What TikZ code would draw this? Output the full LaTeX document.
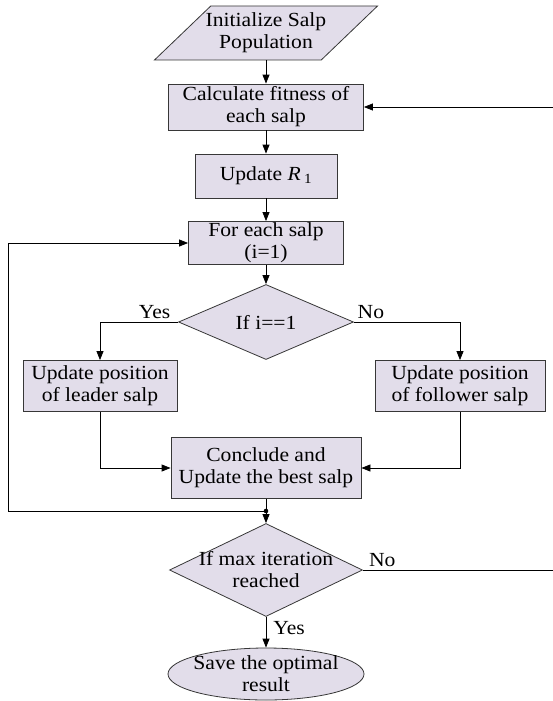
\documentclass[tikz,border=0pt]{standalone}
\usepackage{fontspec}
\setmainfont{Liberation Serif}[FakeStretch=1.08]
\usepackage{tikz}
\usetikzlibrary{shapes.geometric,arrows.meta}
\definecolor{relleno}{RGB}{226,221,234}
\definecolor{borde}{RGB}{55,55,55}

\tikzset{
 caja/.style={rectangle, draw=borde, fill=relleno, inner sep=0pt, align=center},
 rombo/.style={diamond, draw=borde, fill=relleno, inner sep=0pt, align=center},
 texto/.style={inner sep=0pt, align=center},
 flecha/.style={-{Triangle[length=9pt,width=7pt]}},
 etiqueta/.style={inner sep=3pt}
}

\begin{document}
\begin{tikzpicture}[x=1pt, y=-1pt, line width=0.8pt, font=\fontsize{20}{22}\selectfont]
 \useasboundingbox (0,0) rectangle (553,701);

 % Columna central
 \node[trapezium, trapezium left angle=63, trapezium right angle=117,
       trapezium stretches=true, draw=borde, fill=relleno,
       minimum width=223pt, minimum height=54pt] (init) at (266,33) {};
 \node[texto] (init-t) at (init) {Initialize Salp\\Population};
 \node[caja, minimum width=195pt, minimum height=46pt] (calc) at (266,107) {Calculate fitness of\\each salp};
 \node[caja, minimum width=142pt, minimum height=44pt] (rone) at (266,176) {Update \textit{R}\,\textsubscript{1}};
 \node[caja, minimum width=155pt, minimum height=43pt] (each) at (266,243) {For each salp\\(i=1)};
 \node[rombo, minimum width=175pt, minimum height=66pt] (check) at (266,322) {If i==1};

 % Ramas
 \node[caja, minimum width=154pt, minimum height=51pt] (lider) at (100,386) {Update position\\of leader salp};
 \node[caja, minimum width=170pt, minimum height=51pt] (seguidor) at (460,386) {Update position\\of follower salp};
 \node[caja, minimum width=190pt, minimum height=61pt] (concl) at (266,468) {Conclude and\\Update the best salp};

 % Fin
 \node[rombo, minimum width=193pt, minimum height=93pt] (maxit) at (266,570) {};
 \node[texto] (maxit-t) at (maxit) {If max iteration\\reached};
 \node[ellipse, draw=borde, fill=relleno, minimum width=196pt, minimum height=52pt] (fin) at (266,674) {};
 \node[texto] (fin-t) at (fin) {Save the optimal\\result};

 \coordinate (nudo) at (266,511);
 \coordinate (retorno) at (8,511);
 \coordinate (derecha) at (556,570);

 % Flechas
 \draw[flecha] (init) -- (calc);
 \draw[flecha] (calc) -- (rone);
 \draw[flecha] (rone) -- (each);
 \draw[flecha] (each) -- (check);
 \draw[flecha] (check.west) -| node[etiqueta, above, pos=0.15] (si1) {Yes} (lider);
 \draw[flecha] (check.east) -| node[etiqueta, above, pos=0.08] (no1) {No} (seguidor);
 \draw[flecha] (lider) |- (concl);
 \draw[flecha] (seguidor) |- (concl);
 \draw[flecha] (concl) -- (maxit);
 \fill (nudo) circle (2.3pt);
 \draw[flecha] (nudo) -- (retorno) |- (each.west);
 \draw[flecha] (maxit.east) -- node[etiqueta, above, pos=0.1] (no2) {No} (derecha) |- (calc.east);
 \draw[flecha] (maxit) -- node[etiqueta, right, pos=0.35, xshift=4pt] (si2) {Yes} (fin);
\end{tikzpicture}
\end{document}
